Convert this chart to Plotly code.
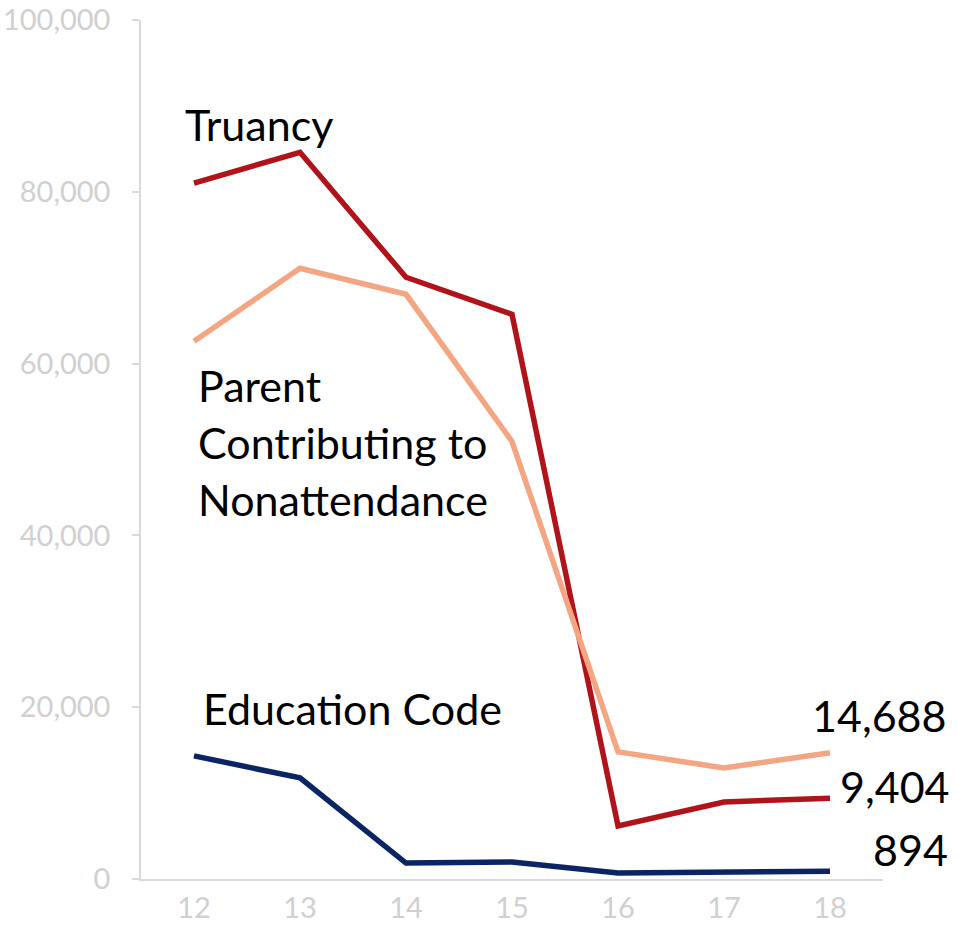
import plotly.graph_objects as go

years = ["12", "13", "14", "15", "16", "17", "18"]
truancy = [81000, 84600, 70050, 65730, 6180, 8970, 9404]
parent = [62590, 71100, 68070, 50930, 14800, 12940, 14688]
education = [14340, 11770, 1860, 1980, 700, 815, 894]

series_names = ["Truancy", "Parent Contributing to Nonattendance", "Education Code"]
colors = ["#B0141A", "#F4A582", "#0B2463"]

FONT = "Lato"

fig = go.Figure()
for name, vals, col in zip(series_names, [truancy, parent, education], colors):
    fig.add_trace(go.Scatter(x=years, y=vals, mode="lines", name=name,
                             line=dict(color=col, width=5.5), showlegend=False))

ann_font = dict(family=FONT, size=43, color="black")
annotations = [
    dict(xref="x", x=-0.1, y=87880, text="Truancy", xanchor="left"),
    dict(xref="x", x=0.02, y=57430, text="Parent", xanchor="left"),
    dict(xref="x", x=0.02, y=50820, text="Contributing to", xanchor="left"),
    dict(xref="x", x=0.02, y=44170, text="Nonattendance", xanchor="left"),
    dict(xref="x", x=0.07, y=19810, text="Education Code", xanchor="left"),
    dict(xref="paper", x=1.0875, y=19000, text=f"{parent[-1]:,}", xanchor="right"),
    dict(xref="paper", x=1.0930, y=10720, text=f"{truancy[-1]:,}", xanchor="right"),
    dict(xref="paper", x=1.0900, y=3380, text=f"{education[-1]:,}", xanchor="right"),
]
for a in annotations:
    fig.add_annotation(yref="y", yanchor="middle", showarrow=False,
                       font=ann_font, **a)

fig.update_layout(
    width=958, height=937,
    margin=dict(l=141, r=75, t=20, b=58, autoexpand=False),
    paper_bgcolor="white", plot_bgcolor="white",
    font=dict(family=FONT),
)
fig.update_xaxes(
    type="category", range=[-0.5, 6.5], showgrid=False, automargin=False,
    showline=True, linecolor="#D9D9D9", linewidth=1.5,
    ticks="", tickfont=dict(size=29, color="#D0D0D0"),
    ticklabelstandoff=2,
)
fig.update_yaxes(
    range=[0, 100000], tickvals=[0, 20000, 40000, 60000, 80000, 100000],
    tickformat=",", showgrid=False, zeroline=False, automargin=False,
    showline=True, linecolor="#D9D9D9", linewidth=1.5,
    ticks="outside", ticklen=7, tickcolor="#D9D9D9", tickwidth=1.5,
    tickfont=dict(size=29, color="#D0D0D0"), ticklabelstandoff=16,
)

fig.write_html("out.html", config={"displayModeBar": False},
               post_script="document.body.style.margin='0';")
